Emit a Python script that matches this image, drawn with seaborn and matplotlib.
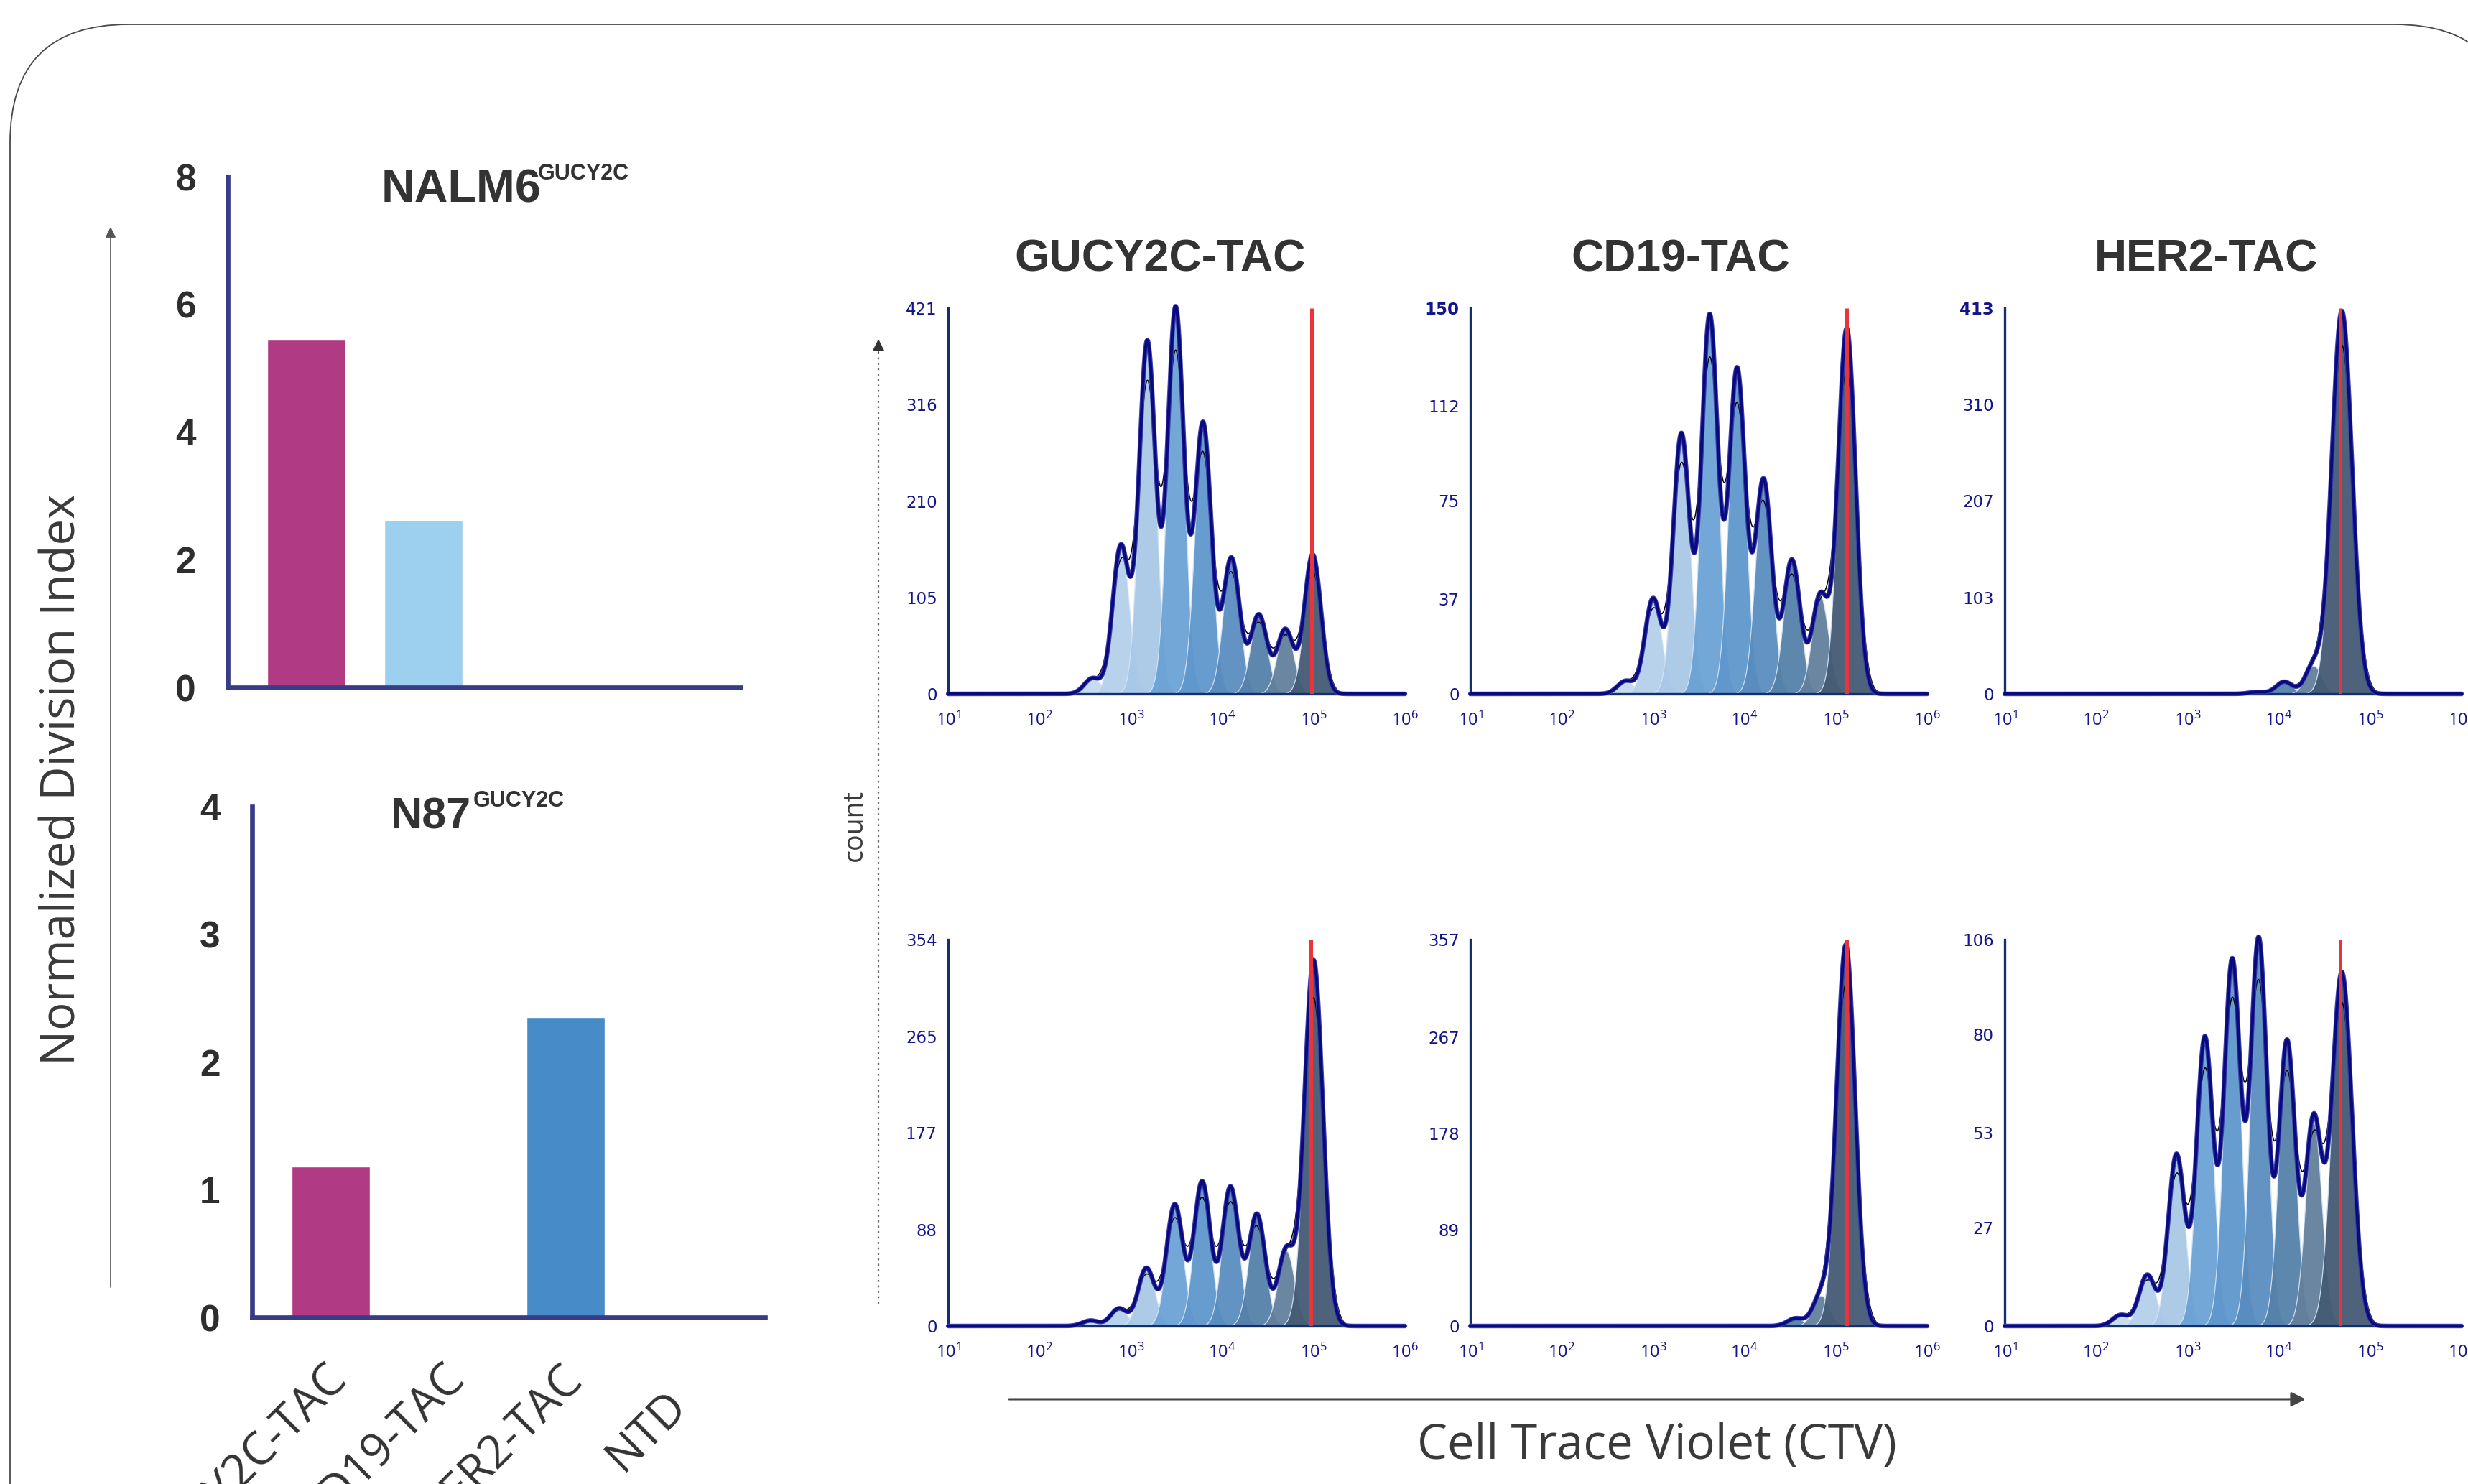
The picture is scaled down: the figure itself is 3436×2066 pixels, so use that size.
import numpy as np
import matplotlib
matplotlib.use("Agg")
import matplotlib.pyplot as plt
import matplotlib.transforms as mtransforms
from matplotlib.patches import FancyBboxPatch
from matplotlib.ticker import FixedLocator, NullFormatter
import seaborn as sns
import pandas as pd

W, H, DPI = 3436, 2066, 100

# ---------------- data ----------------
categories = ["GUCY2C-TAC", "CD19-TAC", "HER2-TAC", "NTD"]
nalm6_index = [5.45, 2.62, 0.0, 0.0]
n87_index = [1.18, 0.0, 2.35, 0.0]
bar_colors = ["#B03A84", "#9DCFEE", "#478BC8", "#9E9E9E"]

panel_titles = ["GUCY2C-TAC", "CD19-TAC", "HER2-TAC"]

# generation peaks: log10(CTV) centre and count height, parent generation first
top_gucy_centres = [4.99, 4.69, 4.40, 4.10, 3.79, 3.49, 3.18, 2.89, 2.58]
top_gucy_heights = [152, 70, 86, 148, 295, 421, 384, 161, 17]
top_cd19_centres = [5.12, 4.83, 4.52, 4.21, 3.92, 3.62, 3.31, 3.00, 2.70]
top_cd19_heights = [142, 38, 52, 83, 126, 147, 101, 37, 5]
top_her2_centres = [4.69, 4.38, 4.06, 3.76]
top_her2_heights = [410, 30, 13, 2]
bot_gucy_centres = [5.00, 4.70, 4.38, 4.09, 3.78, 3.48, 3.17, 2.87, 2.56]
bot_gucy_heights = [335, 69, 102, 127, 132, 111, 53, 16, 5]
bot_cd19_centres = [5.11, 4.84, 4.56]
bot_cd19_heights = [352, 28, 7]
bot_her2_centres = [4.69, 4.38, 4.09, 3.78, 3.49, 3.19, 2.88, 2.56, 2.27]
bot_her2_heights = [97, 56, 78, 106, 100, 79, 47, 14, 3]

top_yticks = [[0, 105, 210, 316, 421], [0, 37, 75, 112, 150], [0, 103, 207, 310, 413]]
bot_yticks = [[0, 88, 177, 265, 354], [0, 89, 178, 267, 357], [0, 27, 53, 80, 106]]
top_parent_marker = [4.98, 5.12, 4.67]
bot_parent_marker = [4.97, 5.12, 4.67]
top_parent_sigma = [0.09, 0.095, 0.11]
bot_parent_sigma = [0.10, 0.10, 0.11]

gen_colors = ["#445B74", "#63809C", "#5581AA", "#5A8DBF", "#5F97CC",
              "#6BA2D5", "#A9C7E6", "#B5D0EA", "#C2D9EF"]

# ---------------- style ----------------
sns.set_theme(style="white")
plt.rcParams["font.family"] = ["Open Sans", "DejaVu Sans"]
plt.rcParams["mathtext.fontset"] = "dejavusans"

BAR_AX = "#383C86"
HIST_AX = "#12306A"
NAVY = "#0A0A80"
LBL = "#14148C"
RED = "#E8343A"
TXT = "#3A3A3A"
BOLD = ["Liberation Sans", "DejaVu Sans"]

fig = plt.figure(figsize=(W / DPI, H / DPI), dpi=DPI)


def rect(x0, y0, x1, y1):
    return [x0 / W, 1 - y1 / H, (x1 - x0) / W, (y1 - y0) / H]


# overlay in pixel coordinates for frame, arrows and free text
ov = fig.add_axes([0, 0, 1, 1], zorder=0)
ov.set_xlim(0, W)
ov.set_ylim(H, 0)
ov.axis("off")
ov.patch.set_alpha(0)
ov.add_patch(FancyBboxPatch((14, 34), 3485, 2400,
                            boxstyle="round,pad=0,rounding_size=165",
                            fill=False, ec="#4a4a4a", lw=1.3))

# left vertical arrow
ov.annotate("", xy=(154, 316), xytext=(154, 1792),
            arrowprops=dict(arrowstyle="-|>", color="#555555", lw=1.2,
                            mutation_scale=22, shrinkA=0, shrinkB=0))
ov.text(88, 1085, "Normalized Division Index", rotation=90, ha="center",
        va="center", fontsize=47, color=TXT)

# dotted count arrow
ov.plot([1223, 1223], [490, 1815], ls=(0, (1.2, 2.2)), color="#666666", lw=1.6)
ov.annotate("", xy=(1223, 472), xytext=(1223, 492),
            arrowprops=dict(arrowstyle="-|>", color="#333333", lw=1,
                            mutation_scale=26, shrinkA=0, shrinkB=0))
ov.text(1190, 1149, "count", rotation=90, ha="center", va="center",
        fontsize=27, color=TXT)

# horizontal CTV arrow
ov.annotate("", xy=(3210, 1948), xytext=(1405, 1948),
            arrowprops=dict(arrowstyle="-|>", color="#444444", lw=2.2,
                            mutation_scale=30, shrinkA=0, shrinkB=0))
ov.text(2307, 2013, "Cell Trace Violet (CTV)", ha="center", va="center",
        fontsize=48, color=TXT)

# bar chart titles
ov.text(531, 281, "NALM6", fontsize=46.5, fontweight="bold", family=BOLD,
        color="#333333", ha="left", va="baseline")
ov.text(749, 250, "GUCY2C", fontsize=22, fontweight="bold", family=BOLD,
        color="#333333", ha="left", va="baseline")
ov.text(544, 1154, "N87", fontsize=44, fontweight="bold", family=BOLD,
        color="#333333", ha="left", va="baseline")
ov.text(659, 1123, "GUCY2C", fontsize=22, fontweight="bold", family=BOLD,
        color="#333333", ha="left", va="baseline")


# ---------------- bar charts ----------------
def bar_panel(r, values, ymax, ystep, labels):
    ax = fig.add_axes(r, zorder=2)
    ax.patch.set_alpha(0)
    df = pd.DataFrame({"cat": categories, "val": values})
    sns.barplot(data=df, x="cat", y="val", hue="cat",
                palette=dict(zip(categories, bar_colors)), saturation=1,
                width=0.665, legend=False, ax=ax)
    ax.set_xlim(-0.665, 3.69)
    ax.set_ylim(0, ymax)
    ax.set_xlabel("")
    ax.set_ylabel("")
    for s in ["top", "right"]:
        ax.spines[s].set_visible(False)
    for s in ["left", "bottom"]:
        ax.spines[s].set_color(BAR_AX)
        ax.spines[s].set_linewidth(4.8)
    ax.set_yticks(np.arange(0, ymax + 0.01, ystep))
    ax.set_yticklabels([f"{int(v)}" for v in np.arange(0, ymax + 0.01, ystep)],
                       fontsize=37, fontweight="bold", family=BOLD, color="#2e2e2e")
    ax.tick_params(axis="y", which="major", direction="out", length=22,
                   width=4, color=BAR_AX, pad=10)
    ax.set_xticks(range(len(categories)))
    ax.xaxis.set_minor_locator(FixedLocator(-0.665 + np.arange(1, 31) / 7.0))
    ax.xaxis.set_minor_formatter(NullFormatter())
    ax.tick_params(axis="x", which="major", direction="out", length=20,
                   width=3.5, color=BAR_AX, pad=18)
    ax.tick_params(axis="x", which="minor", direction="in", length=8,
                   width=1.3, color="#6a6da8")
    if labels:
        ax.set_xticklabels(categories, rotation=45, ha="right", va="top",
                           rotation_mode="anchor", fontsize=46, color="#333333")
        for t in ax.get_xticklabels():
            dx, dy = (-10, 0) if t.get_text() != "NTD" else (-28, -37)
            off = mtransforms.ScaledTranslation(dx / DPI, dy / DPI, fig.dpi_scale_trans)
            t.set_transform(t.get_transform() + off)
    else:
        ax.set_xticklabels([])
    return ax


bar_panel(rect(317, 246, 1031, 957), nalm6_index, 8, 2, False)
bar_panel(rect(351, 1123, 1065, 1834), n87_index, 4, 1, True)

# ---------------- CTV histograms ----------------
X = np.linspace(1, 6, 1500)
XX = 10 ** X
GEN_SIGMA = 0.09


def hist_panel(r, centres, heights, psig, yt, marker, bold_top):
    ax = fig.add_axes(r, zorder=2)
    ax.patch.set_alpha(0)
    ax.set_xscale("log")
    ymax = yt[-1]
    comps = []
    for k, (c, h) in enumerate(zip(centres, heights)):
        s = psig if k == 0 else GEN_SIGMA
        comps.append((c, h, s, h * np.exp(-(X - c) ** 2 / (2 * s ** 2))))
    for k in reversed(range(len(comps))):
        ax.fill_between(XX, 0, comps[k][3], color=gen_colors[k], alpha=0.95,
                        lw=0.9, edgecolor="#d3e3f3", zorder=2)
    env = np.sum([cc[3] for cc in comps], axis=0)
    black = np.zeros_like(X)
    for c, h, s, _ in comps:
        sb = np.sqrt(s ** 2 + 0.05 ** 2)
        black += h * s / sb * np.exp(-(X - c) ** 2 / (2 * sb ** 2))
    sns.lineplot(x=XX, y=black, color="black", lw=1.1, ax=ax, zorder=3,
                 estimator=None, sort=False)
    sns.lineplot(x=XX, y=env, color="#3B3FA8", lw=4.6, ax=ax, zorder=4,
                 estimator=None, sort=False, clip_on=False)
    sns.lineplot(x=XX, y=env, color=NAVY, lw=3.0, ax=ax, zorder=4,
                 estimator=None, sort=False, clip_on=False)
    ax.plot([10 ** marker] * 2, [0, ymax], color=RED, lw=3.6, zorder=5,
            solid_capstyle="butt")
    ax.set_xlim(10, 1e6)
    ax.set_ylim(0, ymax)
    for s in ["top", "right"]:
        ax.spines[s].set_visible(False)
    for s in ["left", "bottom"]:
        ax.spines[s].set_color(HIST_AX)
        ax.spines[s].set_linewidth(2.4)
    ax.set_yticks(yt)
    ax.set_yticklabels([str(v) for v in yt], fontsize=16.5, color=LBL,
                       family=["DejaVu Sans"])
    if bold_top:
        ax.get_yticklabels()[-1].set_fontweight("bold")
    ax.yaxis.set_minor_locator(FixedLocator(
        [ymax * i / 16 for i in range(1, 16) if i % 4]))
    ax.tick_params(axis="y", which="major", direction="out", length=8,
                   width=1.5, color=HIST_AX, pad=3)
    ax.tick_params(axis="y", which="minor", direction="out", length=5,
                   width=1.2, color=HIST_AX)
    ax.set_xticks([10.0 ** k for k in range(1, 7)])
    ax.set_xticklabels([r"$\mathregular{10^{%d}}$" % k for k in range(1, 7)],
                       fontsize=17, color=LBL)
    ax.xaxis.set_minor_locator(FixedLocator(
        [m * 10.0 ** k for k in range(1, 6) for m in range(2, 10)]))
    ax.xaxis.set_minor_formatter(NullFormatter())
    ax.tick_params(axis="x", which="major", direction="out", length=9,
                   width=1.5, color=HIST_AX, pad=9)
    ax.tick_params(axis="x", which="minor", direction="out", length=5,
                   width=1.1, color=HIST_AX)
    ax.set_xlabel("")
    ax.set_ylabel("")
    return ax


col_x = [(1320, 1956), (2047, 2683), (2791, 3427)]
top_data = [(top_gucy_centres, top_gucy_heights), (top_cd19_centres, top_cd19_heights),
            (top_her2_centres, top_her2_heights)]
bot_data = [(bot_gucy_centres, bot_gucy_heights), (bot_cd19_centres, bot_cd19_heights),
            (bot_her2_centres, bot_her2_heights)]
title_x = [1615, 2340, 3071]

for i in range(3):
    x0, x1 = col_x[i]
    hist_panel(rect(x0, 429, x1, 966), top_data[i][0], top_data[i][1],
               top_parent_sigma[i], top_yticks[i], top_parent_marker[i], i > 0)
    hist_panel(rect(x0, 1308, x1, 1846), bot_data[i][0], bot_data[i][1],
               bot_parent_sigma[i], bot_yticks[i], bot_parent_marker[i], False)
    ov.text(title_x[i], 377, panel_titles[i], fontsize=45, fontweight="bold",
            family=BOLD, color="#333333", ha="center", va="baseline")

fig.savefig("out.png", dpi=DPI)
